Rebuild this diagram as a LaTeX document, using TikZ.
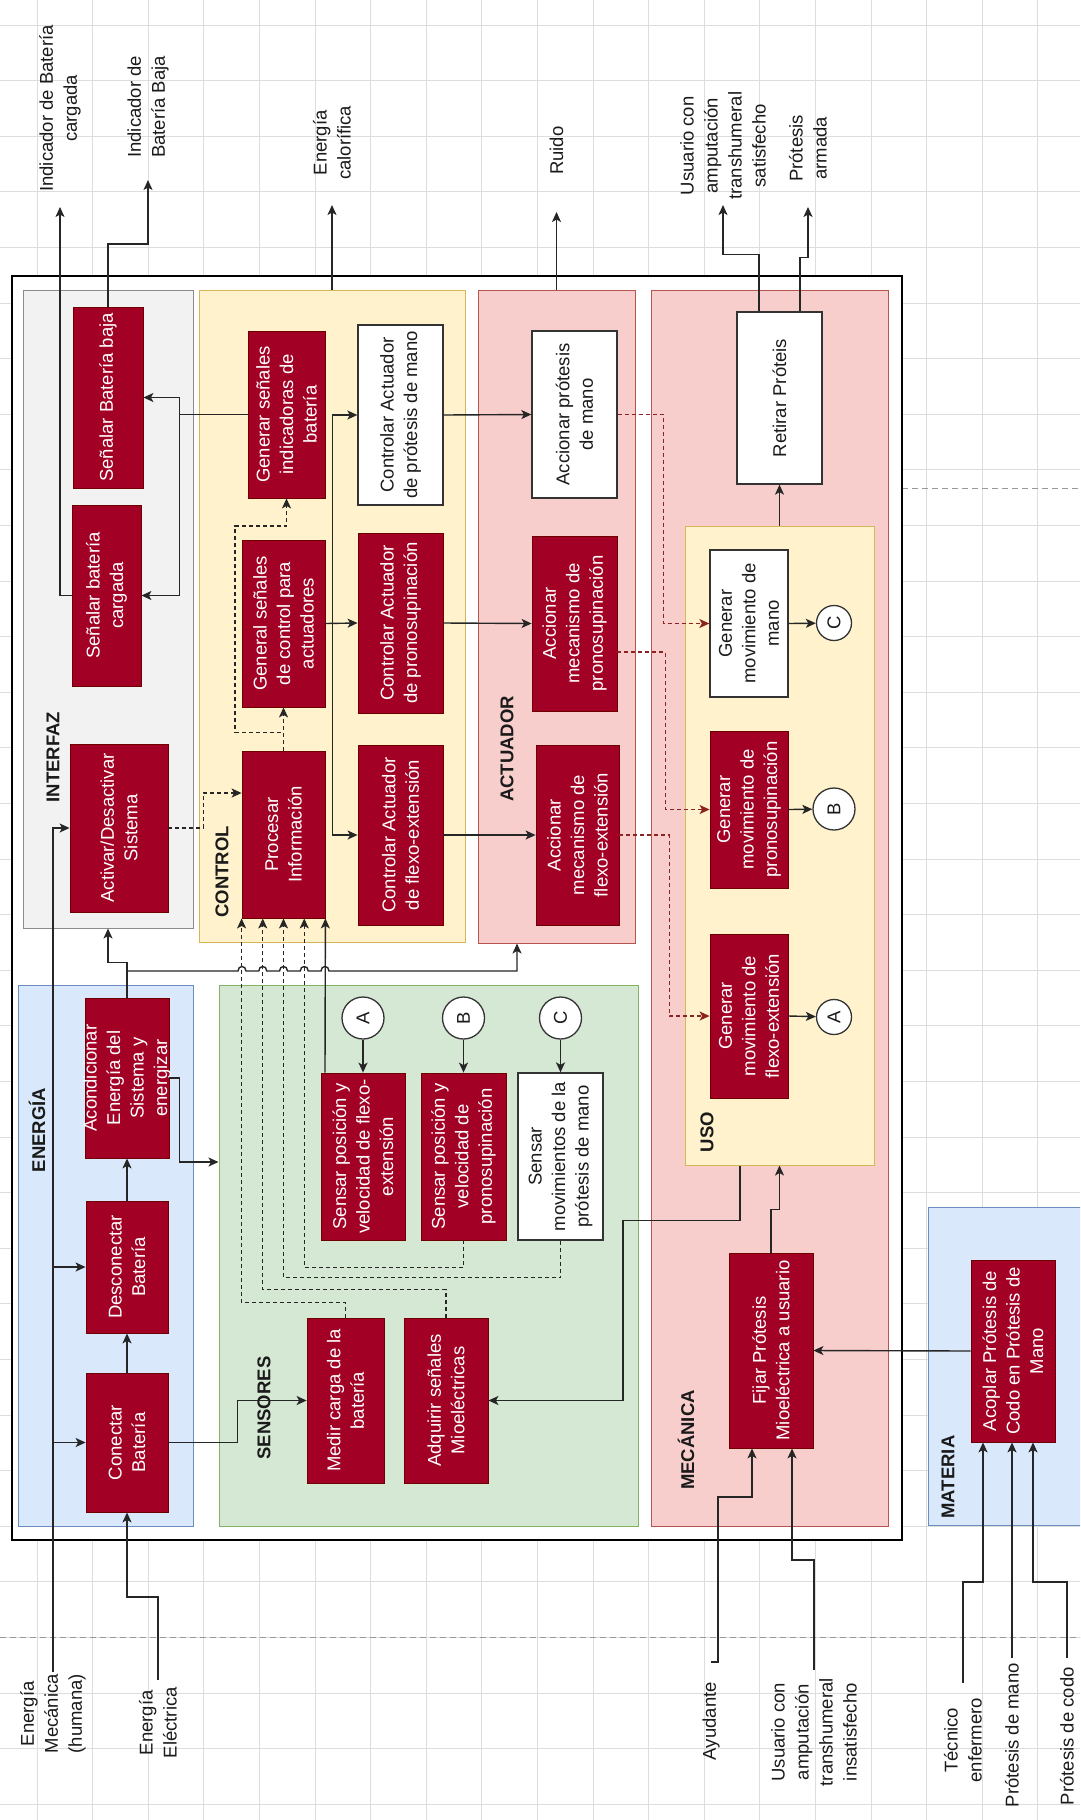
\documentclass[tikz,border=0pt]{standalone}
\usepackage{fontspec}
\setmainfont{Liberation Sans}
\usetikzlibrary{arrows.meta}
\definecolor{boxred}{HTML}{A20025}
\definecolor{boxredline}{HTML}{6F0000}
\definecolor{ifill}{HTML}{F2F2F2}
\definecolor{iline}{HTML}{8C8C8C}
\definecolor{yfill}{HTML}{FFF2CC}
\definecolor{yline}{HTML}{D6B656}
\definecolor{pfill}{HTML}{F8CECC}
\definecolor{pline}{HTML}{B85450}
\definecolor{bfill}{HTML}{DAE8FC}
\definecolor{bline}{HTML}{6C8EBF}
\definecolor{gfill}{HTML}{D5E8D4}
\definecolor{gline}{HTML}{82B366}
\definecolor{gridc}{HTML}{DDDDDD}
\definecolor{txt}{HTML}{1A1A1A}
\definecolor{dred}{HTML}{8B2323}
\newcommand\mybox[7]{\node[#1, minimum width={(#6)-(#4)}, minimum height={(#5)-(#3)}] (#2) at ({((#3)+(#5))/2},{((#4)+(#6))/2}) {#7};}
\newcommand\mysect[6]{\node[#1, minimum width={(#5)-(#3)}, minimum height={(#6)-(#4)}] (#2) at ({((#3)+(#5))/2},{((#4)+(#6))/2}) {};}
\begin{document}
\begin{tikzpicture}[x=1pt,y=-1pt,
  every node/.style={font=\fontsize{18.5}{23.5}\selectfont},
  sect/.style={draw, line width=1pt, inner sep=0pt},
  rbox/.style={draw=boxredline, fill=boxred, text=white, line width=0.8pt, rotate=90, align=center, inner sep=0pt},
  wbox/.style={draw=black!80, fill=white, text=txt, line width=1.3pt, rotate=90, align=center, inner sep=0pt},
  slabel/.style={rotate=90, font=\fontsize{18.5}{22}\selectfont\bfseries, text=txt, inner sep=0pt},
  elabel/.style={rotate=90, align=center, text=txt, font=\fontsize{18.5}{24}\selectfont, inner ysep=0pt},
  conn/.style={line width=1.4pt, draw=black!85},
  arr/.style={conn, -{Stealth[length=10pt,width=9pt,inset=2.5pt]}},
  darr/.style={arr, dash pattern=on 4pt off 3pt},
  rdarr/.style={darr, draw=dred},
  circ/.style={circle, draw=black!80, fill=white, line width=1.3pt, rotate=90, inner sep=0pt, text=txt}
]
\clip (0,0) rectangle (1080,1820);
\fill[white] (0,0) rectangle (1080,1820);
% background grid
\foreach \i in {0,...,18} \draw[gridc, line width=1pt] ({37+55.6*\i},0) -- ({37+55.6*\i},1820);
\foreach \j in {0,...,32} \draw[gridc, line width=1pt] (0,{25+55.6*\j}) -- (1080,{25+55.6*\j});
\draw[black!40, line width=0.9pt, dash pattern=on 6pt off 4pt] (0,1637) -- (1080,1637);
\draw[black!40, line width=0.9pt, dash pattern=on 6pt off 4pt] (902,488) -- (1080,488);

% outer frame and sections
\mysect{draw=black, fill=white, line width=1.6pt, inner sep=0pt}{outer}{12}{276}{902}{1540}
\mysect{sect, fill=ifill, draw=iline}{interfaz}{23}{290}{193}{928}
\mysect{sect, fill=yfill, draw=yline}{control}{199}{290}{465}{942}
\mysect{sect, fill=pfill, draw=pline}{actuador}{478}{290}{635}{943}
\mysect{sect, fill=pfill, draw=pline}{mecanica}{651}{290}{888}{1526}
\mysect{sect, fill=yfill, draw=yline}{uso}{685}{526}{874}{1165}
\mysect{sect, fill=bfill, draw=bline}{energia}{18}{985}{193}{1526}
\mysect{sect, fill=gfill, draw=gline}{sensores}{219}{985}{638}{1526}
\mysect{sect, fill=bfill, draw=bline}{materia}{928}{1207}{1095}{1525}

% section titles
\node[slabel] (tInterfaz) at (53,757) {INTERFAZ};
\node[slabel] (tControl) at (222,872) {CONTROL};
\node[slabel] (tActuador) at (507,749) {ACTUADOR};
\node[slabel] (tMecanica) at (686,1440) {MECÁNICA};
\node[slabel] (tUso) at (707,1132) {USO};
\node[slabel] (tEnergia) at (37,1130) {ENERGÍA};
\node[slabel] (tSensores) at (264,1408) {SENSORES};
\node[slabel] (tMateria) at (948,1477) {MATERIA};

% INTERFAZ
\mybox{rbox}{sbb}{73}{307}{143}{488}{Señalar Batería baja}
\mybox{rbox}{sbc}{72}{505}{141}{686}{Señalar batería\\cargada}
\mybox{rbox}{act}{70}{744}{168}{912}{Activar/Desactivar\\Sistema}
% CONTROL
\mybox{rbox}{gsi}{248}{331}{325}{498}{Generar señales\\indicadoras de\\batería}
\mybox{rbox}{gsc}{242}{540}{325}{707}{General señales\\de control para\\actuadores}
\mybox{rbox}{pro}{242}{751}{325}{918}{Procesar\\Información}
\mybox{wbox}{cam}{358}{325}{443}{505}{Controlar Actuador\\de prótesis de mano}
\mybox{rbox}{cap}{358}{533}{443}{713}{Controlar Actuador\\de pronosupinación}
\mybox{rbox}{caf}{358}{745}{443}{925}{Controlar Actuador\\de flexo-extensión}
% ACTUADOR
\mybox{wbox}{aam}{532}{331}{617}{498}{Accionar prótesis\\de mano}
\mybox{rbox}{amp}{532}{536}{617}{711}{Accionar\\mecanismo de\\pronosupinación}
\mybox{rbox}{amf}{536}{745}{619}{925}{Accionar\\mecanismo de\\flexo-extensión}
% MECANICA / USO
\mybox{wbox}{ret}{737}{312}{822}{484}{Retirar Próteis}
\mybox{wbox}{gmm}{710}{550}{788}{697}{Generar\\movimiento de\\mano}
\mybox{rbox}{gmp}{710}{731}{788}{888}{Generar\\movimiento de\\pronosupinación}
\mybox{rbox}{gmf}{710}{934}{788}{1098}{Generar\\movimiento de\\flexo-extensión}
\node[circ, minimum size=35] (cC) at (834,623) {C};
\node[circ, minimum size=42] (cB) at (834,809) {B};
\node[circ, minimum size=35] (cA) at (834,1017) {A};
\mybox{rbox}{fij}{729}{1253}{813}{1448}{Fijar Prótesis\\Mioeléctrica a usuario}
% MATERIA
\mybox{rbox}{aco}{971}{1260}{1055}{1442}{Acoplar Prótesis de\\Codo en Prótesis de\\Mano}
% ENERGIA
\mybox{rbox}{acd}{85}{998}{169}{1158}{}
\node[rotate=90, align=center, text=white, inner sep=0pt] (acdT) at (acd.center) {Acondicionar\\Energía del\\Sistema y\\energizar};
\mybox{rbox}{des}{86}{1201}{168}{1333}{Desconectar\\Batería}
\mybox{rbox}{con}{86}{1373}{168}{1512}{Conectar\\Batería}
% SENSORES
\mybox{rbox}{spf}{321}{1073}{405}{1240}{Sensar posición y\\velocidad de flexo-\\extensión}
\mybox{rbox}{spp}{421}{1073}{506}{1240}{Sensar posición y\\velocidad de\\pronosupinación}
\mybox{wbox}{smm}{518}{1073}{603}{1240}{Sensar\\movimientos de la\\prótesis de mano}
\node[circ, minimum size=42] (sA) at (363,1018) {A};
\node[circ, minimum size=42] (sB) at (463.5,1018) {B};
\node[circ, minimum size=42] (sC) at (560.5,1018) {C};
\mybox{rbox}{med}{307}{1318}{384}{1483}{Medir carga de la\\batería}
\mybox{rbox}{adq}{404}{1318}{488}{1483}{Adquirir señales\\Mioeléctricas}

% external labels (top)
\node[elabel, anchor=west, inner xsep=15pt] (lIC) at (60,207) {Indicador de Batería\\cargada};
\node[elabel, anchor=west, inner xsep=22pt] (lIB) at (148,180) {Indicador de\\Batería Baja};
\node[elabel, anchor=west, inner xsep=25pt] (lEC) at (332,205) {Energía\\calorífica};
\node[elabel, anchor=west, inner xsep=37pt] (lRu) at (556.5,212) {Ruido};
\node[elabel, anchor=west, inner xsep=5pt] (lUS) at (723,205) {Usuario con\\amputación\\transhumeral\\satisfecho};
\node[elabel, anchor=west, inner xsep=25pt] (lPA) at (808,207) {Prótesis\\armada};
% external labels (bottom)
\node[elabel, anchor=east, inner xsep=2pt] (lEM) at (53,1672) {Energía\\Mecánica\\(humana)};
\node[elabel, anchor=east, inner xsep=7pt] (lEE) at (158,1680) {Energía\\Eléctrica};
\node[elabel, anchor=east, inner xsep=20pt] (lAy) at (711,1662) {Ayudante};
\node[elabel, anchor=east, inner xsep=8pt] (lUI) at (814,1670) {Usuario con\\amputación\\transhumeral\\insatisfecho};
\node[elabel, anchor=east, inner xsep=15pt] (lTE) at (963,1683) {Técnico\\enfermero};
\node[elabel, anchor=east, inner xsep=5pt] (lPM) at (1012,1658) {Prótesis de mano};
\node[elabel, anchor=east, inner xsep=9pt] (lPC) at (1067,1658) {Prótesis de codo};

% ---------- connectors ----------
% interfaz
\draw[arr] (sbc.north) -| (lIC.west);
\draw[arr] (sbb.east) -- (sbb.east |- 0,244) -| (lIB.west);
\draw[arr] (gsi.north) -- ++(-68,0) |- (sbb.south);
\draw[arr] (gsi.north) -- ++(-68,0) |- (sbc.south);
% control
\draw[darr] (act.south) -- ++(35,0) |- (pro.north |- 0,793);
\draw[darr] (pro.east) -- (gsc.west);
\draw[darr] (pro.east) -- ++(0,-18) -| (235,526) -| (gsi.west);
\draw[arr] (gsc.south) -- (cap.north);
\draw[arr] (gsc.south) -- ++(7,0) |- (cam.north);
\draw[arr] (gsc.south) -- ++(7,0) |- (caf.north);
\draw[arr] (cam.south) -- (aam.north);
\draw[arr] (cap.south) -- (amp.north);
\draw[arr] (caf.south) -- (amf.north);
% actuador -> uso
\draw[rdarr] (aam.south) -- ++(46,0) |- (gmm.north);
\draw[rdarr] (amp.south |- 0,652) -- ++(48,0) |- (gmp.north);
\draw[rdarr] (amf.south) -- ++(50,0) |- (gmf.north);
\draw[arr] (gmm.south) -- (cC);
\draw[arr] (gmp.south) -- (cB);
\draw[arr] (gmf.south) -- (cA);
% outputs
\draw[arr] (uso.north -| ret) -- (ret.west);
\draw[arr] (ret.east -| 759,0) -- ++(0,-57) -| (lUS.west);
\draw[arr] (ret.east -| 800,0) -- ++(0,-54) -| (lPA.west);
\draw[arr] (control.north) -- (lEC.west);
\draw[arr] (actuador.north) -- (lRu.west);
% sensores
\draw[arr] (sA) -- (spf.east);
\draw[arr] (sB) -- (spp.east);
\draw[arr] (sC) -- (smm.east);
\draw[arr] (spf.east -| 325,0) -- (pro.south west);
\draw[darr] (med.east) -- ++(0,-15) -| (pro.north west);
\draw[darr] (adq.east) -- ++(0,-28) -| (pro.west -| 262.75,0);
\draw[darr] (smm.west) -- ++(0,37) -| (pro.west);
\draw[darr] (spp.west) -- ++(0,27) -| (pro.west -| 304.25,0);
% energia
\draw[arr] (lEM.east) |- (act.north);
\draw[arr] (lEM.east |- des.north) -- (des.north);
\draw[arr] (lEM.east |- con.north) -- (con.north);
\draw[arr] (lEE.east) -- ++(0,-83) -| (con.west);
\draw[arr] (con.east) -- (des.west);
\draw[arr] (des.east) -- (acd.west);
\draw[arr] (acd.east) -- ++(0,-35) -| (interfaz.south);
\draw[arr] (acd.east) -- (acd.east |- 0,971)
  -- (238,971) .. controls (238,965) and (246,965) .. (246,971)
  -- (258.75,971) .. controls (258.75,965) and (266.75,965) .. (266.75,971)
  -- (279.5,971) .. controls (279.5,965) and (287.5,965) .. (287.5,971)
  -- (300.25,971) .. controls (300.25,965) and (308.25,965) .. (308.25,971)
  -- (321,971) .. controls (321,965) and (329,965) .. (329,971)
  -- (517,971) -- (actuador.south -| 517,0);
\draw[arr] (acd.south) -- ++(10,0) |- (sensores.west |- 0,1162);
\draw[arr] (con.south) -- ++(69,0) |- (med.north);
% mecanica
\draw[arr] (fij.east) -- ++(0,-43) -| (uso.south);
\draw[arr] (uso.south -| 740,0) -- ++(0,55) -- ++(-117,0) |- (adq.south);
\draw[arr] (aco.north) -- (fij.south);
\draw[arr] (lAy.east) -| (718,1497) -| (fij.west -| 752,0);
\draw[arr] (lUI.east) -- ++(0,-110) -| (fij.west -| 792,0);
\draw[arr] (lTE.east) -- ++(0,-101) -| (aco.west -| 983,0);
\draw[arr] (lPM.east) -- (lPM.east |- aco.west);
\draw[arr] (lPC.east) -- ++(0,-76) -| (aco.west -| 1033,0);
\end{tikzpicture}
\end{document}
